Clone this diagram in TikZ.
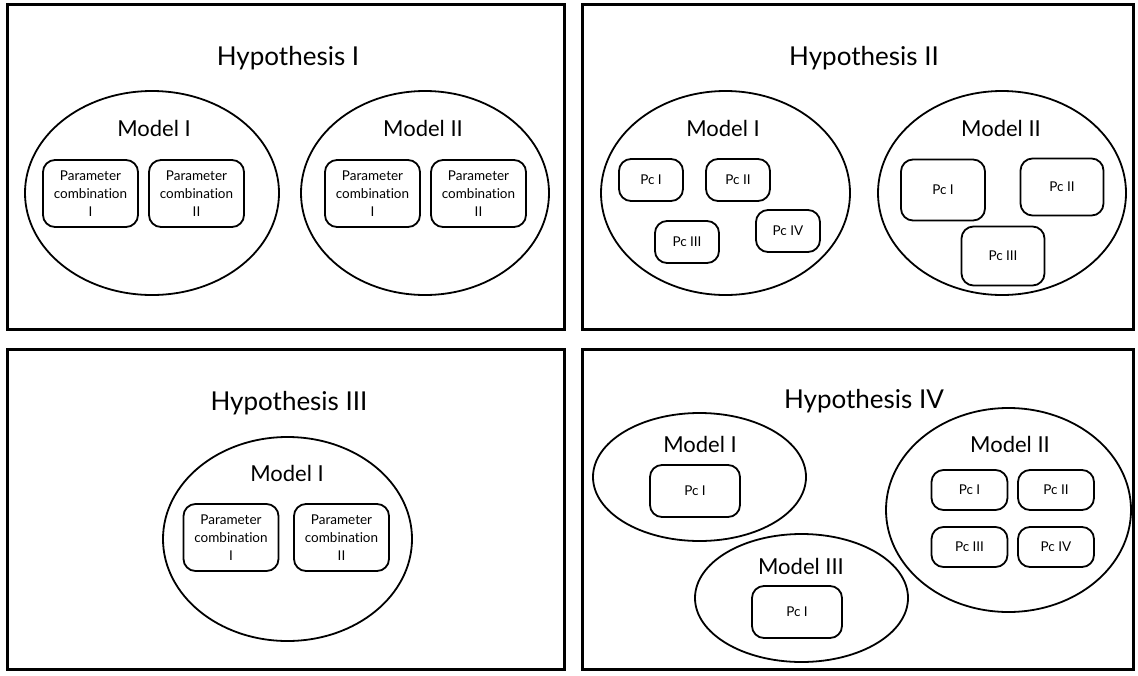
\documentclass[tikz,border=0pt]{standalone}
\usepackage{fontspec}
\setmainfont{Lato}[Ligatures=NoCommon]
\usetikzlibrary{shapes.geometric}

\begin{document}
\begin{tikzpicture}[x=1pt,y=-1pt,
	frame/.style={draw,line width=3pt},
	model node/.style={ellipse,draw,line width=1.8pt,inner sep=0pt},
	pc node/.style={rectangle,rounded corners=12pt,draw,line width=1.8pt,inner sep=0pt,align=center},
	hyp label/.style={font=\fontsize{26}{30}\selectfont},
	model label/.style={font=\fontsize{22}{26}\selectfont}]
	\tikzstyle{every node}=[font=\fontsize{13.5}{18}\selectfont]
	\useasboundingbox (0,0) rectangle (1138,675);
	% the four panels
	\draw[frame] (7,4) rectangle (564,329);
	\draw[frame] (582,4) rectangle (1133,329);
	\draw[frame] (7,349) rectangle (564,669);
	\draw[frame] (582,349) rectangle (1133,669);
	% hypothesis I
	\draw
		(288,58) node[hyp label] (h1) {Hypothesis I}
		(152,193) node[model node,minimum width=254pt,minimum height=204pt] (h1m1) {}
		(154,128) node[model label] (h1m1t) {Model I}
		(90.5,193.5) node[pc node,minimum width=95pt,minimum height=67pt] (h1m1a) {Parameter\\combination\\I}
		(196.5,193.5) node[pc node,minimum width=95pt,minimum height=67pt] (h1m1b) {Parameter\\combination\\II}
		(425,193) node[model node,minimum width=248pt,minimum height=204pt] (h1m2) {}
		(423,128) node[model label] (h1m2t) {Model II}
		(372.5,193.5) node[pc node,minimum width=95pt,minimum height=67pt] (h1m2a) {Parameter\\combination\\I}
		(478.5,193.5) node[pc node,minimum width=95pt,minimum height=67pt] (h1m2b) {Parameter\\combination\\II};
	% hypothesis II
	\draw
		(864,58) node[hyp label] (h2) {Hypothesis II}
		(725.5,193) node[model node,minimum width=249pt,minimum height=204pt] (h2m1) {}
		(723,128) node[model label] (h2m1t) {Model I}
		(651,180) node[pc node,minimum width=64pt,minimum height=42pt] (h2m1a) {Pc I}
		(738,180) node[pc node,minimum width=64pt,minimum height=42pt] (h2m1b) {Pc II}
		(687,242) node[pc node,minimum width=64pt,minimum height=42pt] (h2m1c) {Pc III}
		(788,231) node[pc node,minimum width=64pt,minimum height=42pt] (h2m1d) {Pc IV}
		(1002,193) node[model node,minimum width=248pt,minimum height=204pt] (h2m2) {}
		(1001,128) node[model label] (h2m2t) {Model II}
		(943,190) node[pc node,minimum width=84pt,minimum height=61pt] (h2m2a) {Pc I}
		(1062,187) node[pc node,minimum width=83pt,minimum height=57pt] (h2m2b) {Pc II}
		(1003,256) node[pc node,minimum width=83pt,minimum height=59pt] (h2m2c) {Pc III};
	% hypothesis III
	\draw
		(289,403) node[hyp label] (h3) {Hypothesis III}
		(287.5,539) node[model node,minimum width=249pt,minimum height=204pt] (h3m1) {}
		(287,473) node[model label] (h3m1t) {Model I}
		(231,537.5) node[pc node,minimum width=95pt,minimum height=67pt] (h3m1a) {Parameter\\combination\\I}
		(341.5,537.5) node[pc node,minimum width=95pt,minimum height=67pt] (h3m1b) {Parameter\\combination\\II};
	% hypothesis IV
	\draw
		(864,401) node[hyp label] (h4) {Hypothesis IV}
		(699.5,477) node[model node,minimum width=213pt,minimum height=128pt] (h4m1) {}
		(700,444) node[model label] (h4m1t) {Model I}
		(695,491) node[pc node,minimum width=90pt,minimum height=52pt] (h4m1a) {Pc I}
		(801.5,598) node[model node,minimum width=213pt,minimum height=128pt] (h4m3) {}
		(801,566) node[model label] (h4m3t) {Model III}
		(797,612) node[pc node,minimum width=90pt,minimum height=52pt] (h4m3a) {Pc I}
		(1008.5,510) node[model node,minimum width=245pt,minimum height=204pt] (h4m2) {}
		(1010,444) node[model label] (h4m2t) {Model II}
		(969.5,490) node[pc node,minimum width=76pt,minimum height=40pt] (h4m2a) {Pc I}
		(1056,490) node[pc node,minimum width=76pt,minimum height=40pt] (h4m2b) {Pc II}
		(969.5,547) node[pc node,minimum width=76pt,minimum height=40pt] (h4m2c) {Pc III}
		(1056,547) node[pc node,minimum width=76pt,minimum height=40pt] (h4m2d) {Pc IV};
\end{tikzpicture}
\end{document}
